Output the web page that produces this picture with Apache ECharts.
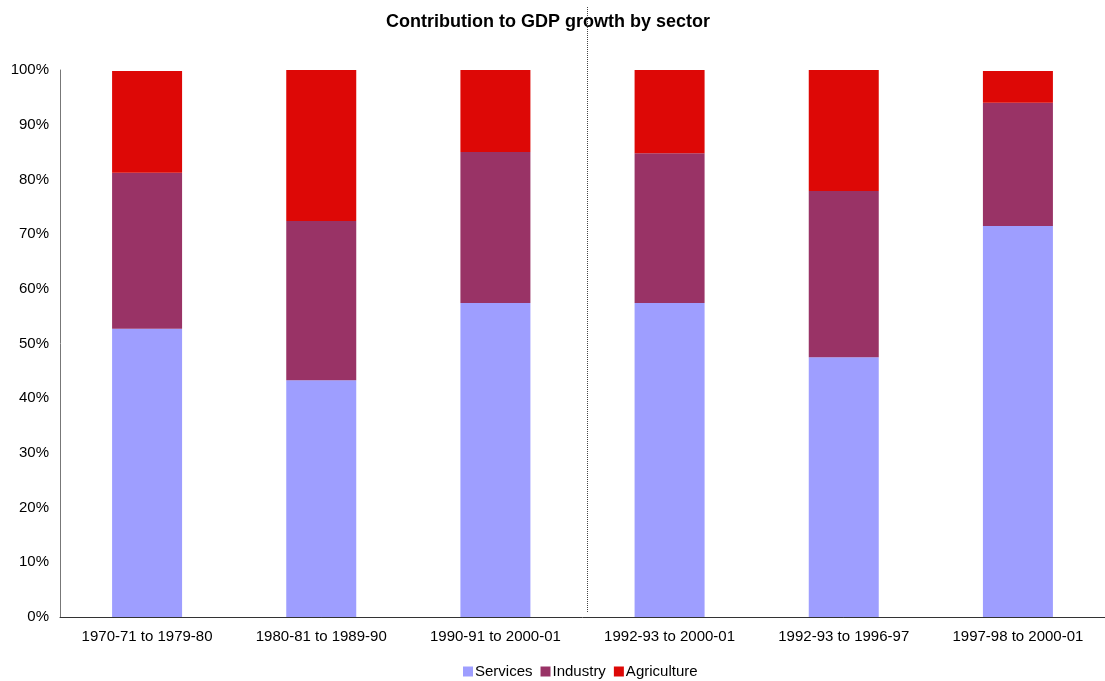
<!DOCTYPE html>
<html>
<head>
<meta charset="utf-8">
<style>
  html, body { margin: 0; padding: 0; background: #fff; }
  #chart { width: 1105px; height: 681px; }
</style>
<script src="https://cdn.jsdelivr.net/npm/echarts@6/dist/echarts.min.js"></script>
</head>
<body>
<div id="chart"></div>
<script>
// Periods shown on the category axis
const periods = ['1970-71 to 1979-80', '1980-81 to 1989-90', '1990-91 to 2000-01',
                 '1992-93 to 2000-01', '1992-93 to 1996-97', '1997-98 to 2000-01'];

// Share of GDP growth contributed by each sector (%)
const services    = [52.7, 43.3, 57.4, 57.4, 47.5, 71.5];
const industry    = [28.5, 29.1, 27.6, 27.4, 30.4, 22.5];
const agriculture = [18.6, 27.6, 15.0, 15.2, 22.1, 5.8];

const FONT = '"Liberation Sans", Arial, sans-serif';

const chart = echarts.init(document.getElementById('chart'), null, { renderer: 'canvas' });

function barSeries(name, data, color) {
  return {
    name: name,
    type: 'bar',
    stack: 'total',
    data: data,
    barWidth: 70,
    itemStyle: { color: color },
    emphasis: { disabled: true }
  };
}

chart.setOption({
  animation: false,
  backgroundColor: '#ffffff',
  title: {
    text: 'Contribution to GDP growth by sector',
    left: 381,
    top: 8,
    textStyle: { fontFamily: FONT, fontSize: 18, fontWeight: 'bold', color: '#000' }
  },
  legend: {
    bottom: -3,
    left: 458,
    itemWidth: 10,
    itemHeight: 10,
    itemGap: 8,
    icon: 'rect',
    textStyle: { fontFamily: FONT, fontSize: 15, color: '#000', padding: [0, 0, 0, -3] },
    data: ['Services', 'Industry', 'Agriculture']
  },
  grid: { left: 60, right: 0, top: 70, bottom: 64, containLabel: false },
  xAxis: {
    type: 'category',
    data: periods,
    axisTick: { show: false },
    axisLine: { lineStyle: { color: '#333', width: 1 } },
    axisLabel: { fontFamily: FONT, fontSize: 15, color: '#000', margin: 12 }
  },
  yAxis: {
    type: 'value',
    min: 0,
    max: 100,
    interval: 10,
    splitLine: { show: false },
    axisTick: { show: false },
    axisLine: { show: true, lineStyle: { color: '#777', width: 1 } },
    axisLabel: { fontFamily: FONT, fontSize: 15, color: '#000', margin: 11, formatter: '{value}%' }
  },
  series: [
    barSeries('Services', services, '#9E9EFF'),
    barSeries('Industry', industry, '#993366'),
    barSeries('Agriculture', agriculture, '#DD0806')
  ]
});

// Dotted divider just right of the midpoint between the third and fourth periods
const xa = chart.convertToPixel({ xAxisIndex: 0 }, 2);
const xb = chart.convertToPixel({ xAxisIndex: 0 }, 3);
const xDiv = Math.round((xa + xb) / 2) + 4.5;
chart.setOption({
  graphic: [{
    type: 'line',
    shape: { x1: xDiv, y1: 7, x2: xDiv, y2: 612 },
    style: { stroke: '#444', lineWidth: 1, lineDash: [1, 1] },
    silent: true,
    z: 10
  }]
});
</script>
</body>
</html>
